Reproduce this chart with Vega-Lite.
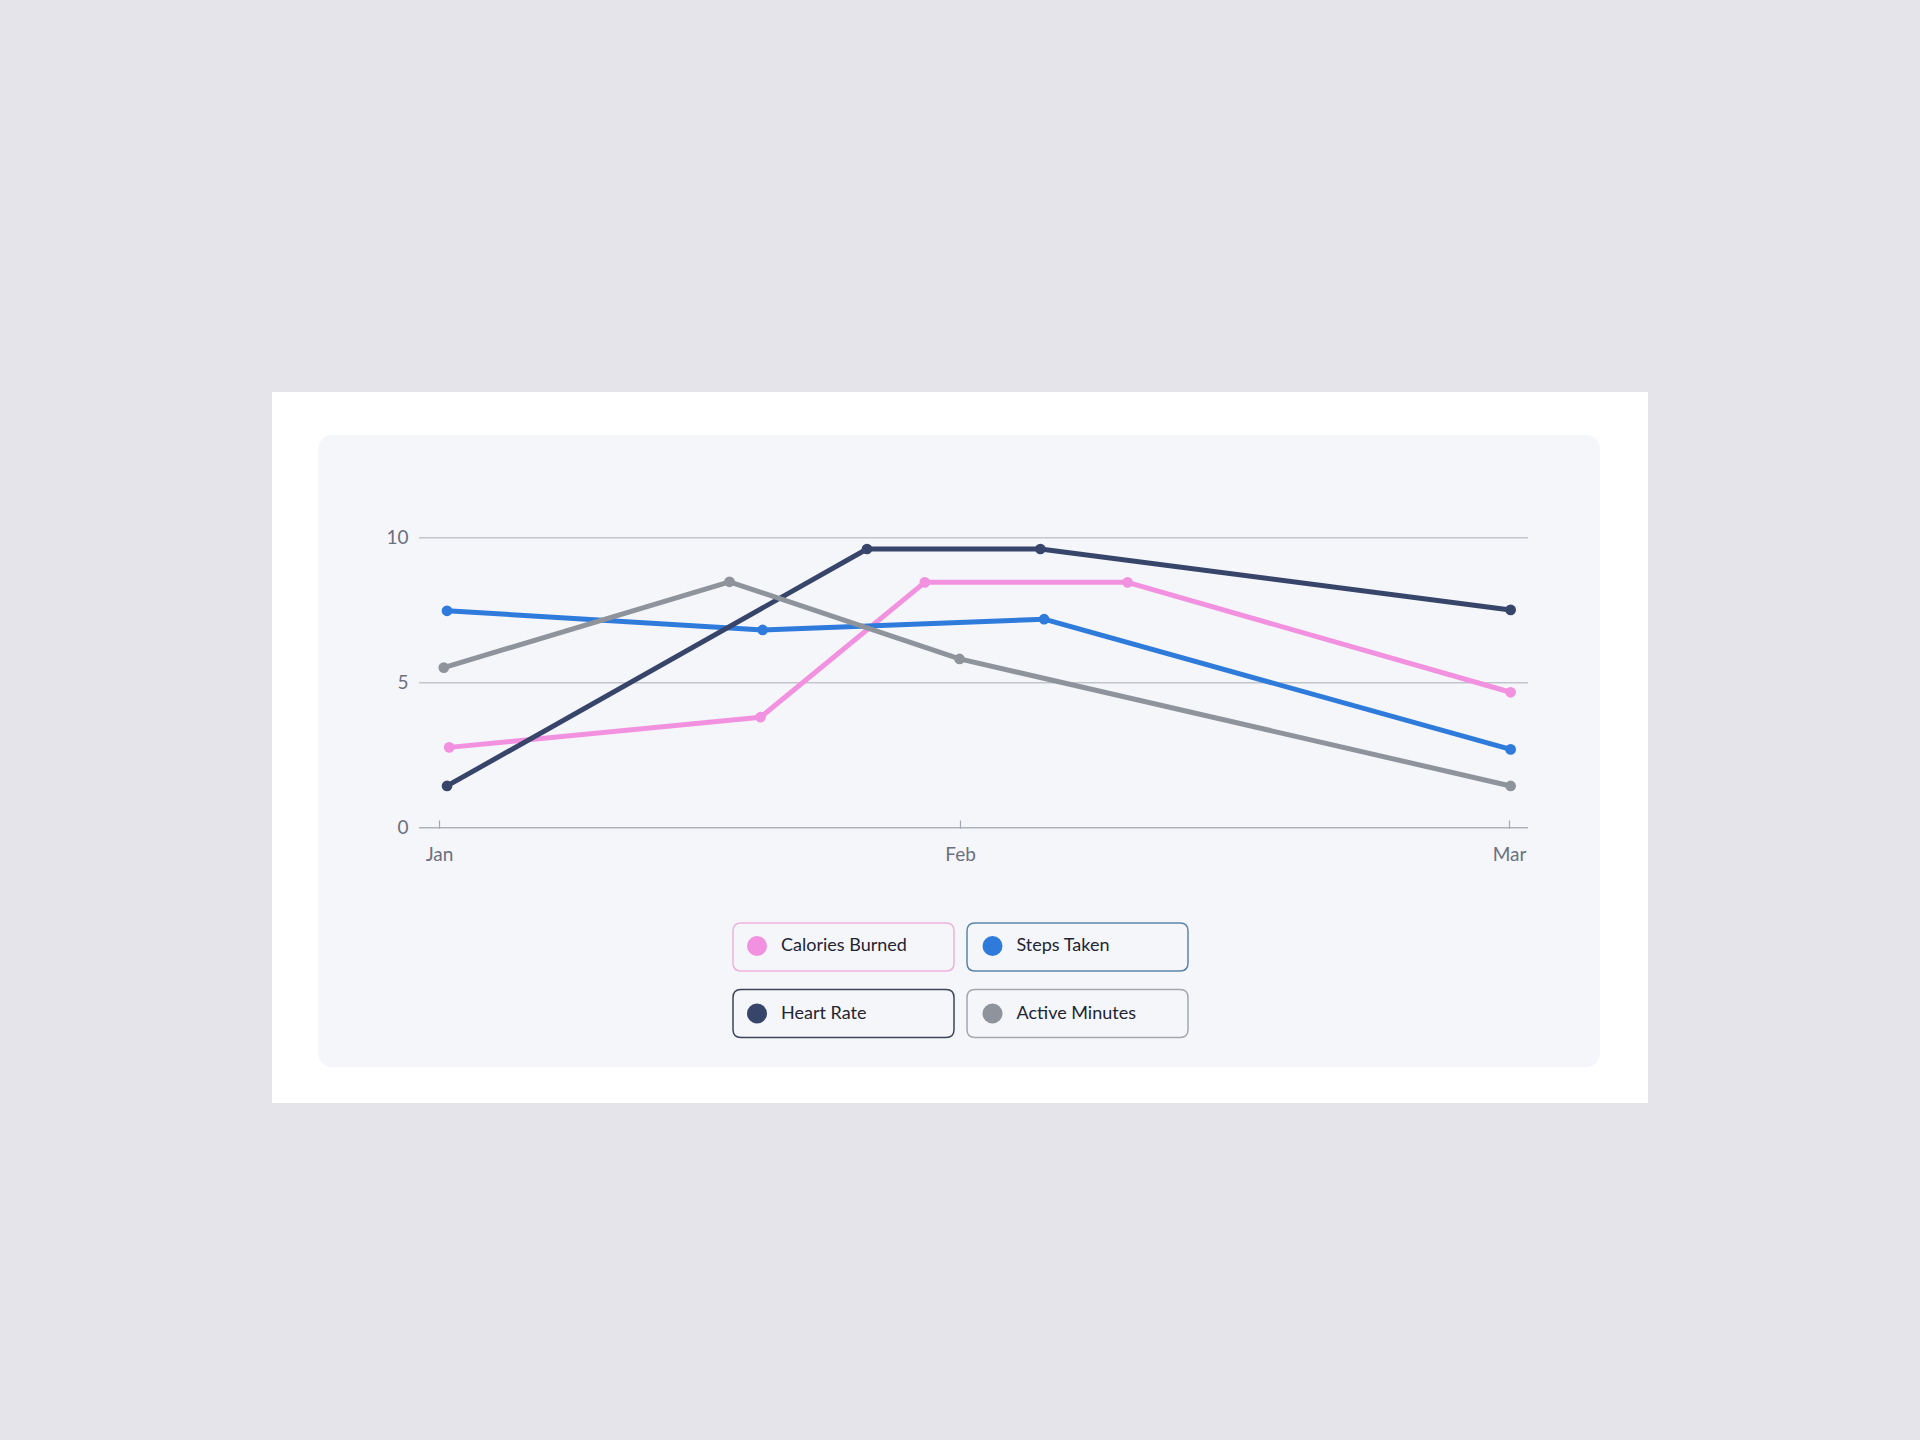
{
  "$schema": "https://vega.github.io/schema/vega-lite/v6.json",
  "width": 1376,
  "height": 711,
  "autosize": {"type": "none"},
  "padding": {"left": 272, "top": 392, "right": 272, "bottom": 337},
  "background": "#e4e4ea",
  "config": {
    "view": {"fill": "#ffffff", "stroke": null},
    "font": "Lato",
    "axis": {"labelFont": "Lato", "labelColor": "#6b7080", "labelFontSize": 19},
    "legend": {"labelFont": "Lato"}
  },
  "data": {
    "values": [
      {"series": "Calories Burned", "month": 1.019, "value": 2.77},
      {"series": "Calories Burned", "month": 1.601, "value": 3.81},
      {"series": "Calories Burned", "month": 1.908, "value": 8.46},
      {"series": "Calories Burned", "month": 2.287, "value": 8.46},
      {"series": "Calories Burned", "month": 3.003, "value": 4.67},
      {"series": "Steps Taken", "month": 1.015, "value": 7.48},
      {"series": "Steps Taken", "month": 1.605, "value": 6.82},
      {"series": "Steps Taken", "month": 2.131, "value": 7.19},
      {"series": "Steps Taken", "month": 3.003, "value": 2.70},
      {"series": "Heart Rate", "month": 1.015, "value": 1.44},
      {"series": "Heart Rate", "month": 1.800, "value": 9.61},
      {"series": "Heart Rate", "month": 2.124, "value": 9.61},
      {"series": "Heart Rate", "month": 3.003, "value": 7.51},
      {"series": "Active Minutes", "month": 1.009, "value": 5.52},
      {"series": "Active Minutes", "month": 1.543, "value": 8.48},
      {"series": "Active Minutes", "month": 1.973, "value": 5.82},
      {"series": "Active Minutes", "month": 3.003, "value": 1.44}
    ]
  },
  "encoding": {
    "x": {
      "field": "month",
      "type": "quantitative",
      "scale": {"domain": [0.68785, 3.2598], "nice": false, "zero": false},
      "axis": {
        "title": null,
        "offset": -283,
        "values": [1, 1.974, 3],
        "labelExpr": "datum.value < 1.5 ? 'Jan' : datum.value < 2.5 ? 'Feb' : 'Mar'",
        "domain": false,
        "grid": false,
        "ticks": true,
        "tickSize": 8,
        "tickColor": "#a3a7b0",
        "tickWidth": 1.2,
        "labelPadding": 17,
        "labelFlush": false,
        "zindex": 1
      }
    },
    "y": {
      "field": "value",
      "type": "quantitative",
      "scale": {"domain": [-9.493, 15.024], "nice": false, "zero": false},
      "axis": {
        "title": null,
        "offset": -147,
        "values": [0, 5, 10],
        "domain": false,
        "grid": false,
        "ticks": false,
        "labelPadding": 11,
        "zindex": 1
      }
    }
  },
  "layer": [
    {
      "transform": [{"filter": {"and": [{"field": "series", "equal": "Heart Rate"}, {"field": "month", "gt": 3}]}}],
      "mark": {"type": "rect", "fill": "#f5f6fa", "cornerRadius": 14},
      "encoding": {
        "x": {"datum": 0.7744},
        "x2": {"datum": 3.1701},
        "y": {"datum": 13.541},
        "y2": {"datum": -8.262}
      }
    },
    {
      "transform": [{"filter": {"and": [{"field": "series", "equal": "Heart Rate"}, {"field": "month", "gt": 3}]}}],
      "mark": {"type": "rule", "color": "#c3c5cc", "strokeWidth": 1.5},
      "encoding": {"x": {"datum": 0.9626}, "x2": {"datum": 3.0355}, "y": {"datum": 10}}
    },
    {
      "transform": [{"filter": {"and": [{"field": "series", "equal": "Heart Rate"}, {"field": "month", "gt": 3}]}}],
      "mark": {"type": "rule", "color": "#c3c5cc", "strokeWidth": 1.5},
      "encoding": {"x": {"datum": 0.9626}, "x2": {"datum": 3.0355}, "y": {"datum": 5}}
    },
    {
      "transform": [{"filter": {"and": [{"field": "series", "equal": "Heart Rate"}, {"field": "month", "gt": 3}]}}],
      "mark": {"type": "rule", "color": "#aeb1b8", "strokeWidth": 1.5},
      "encoding": {"x": {"datum": 0.9626}, "x2": {"datum": 3.0355}, "y": {"datum": 0}}
    },
    {
      "mark": {"type": "line", "strokeWidth": 5, "strokeCap": "round", "strokeJoin": "round"},
      "encoding": {
        "stroke": {
          "field": "series",
          "type": "nominal",
          "scale": {
            "domain": ["Calories Burned", "Steps Taken", "Heart Rate", "Active Minutes"],
            "range": ["#f291df", "#2e7bdc", "#38456b", "#8e939c"]
          },
          "legend": null
        }
      }
    },
    {
      "mark": {"type": "point", "filled": true, "size": 115, "opacity": 1},
      "encoding": {
        "fill": {
          "field": "series",
          "type": "nominal",
          "sort": null,
          "scale": {"range": ["#f291df", "#2e7bdc", "#38456b", "#8e939c"]},
          "legend": {
            "title": null,
            "orient": "none",
            "direction": "horizontal",
            "legendX": 474,
            "legendY": 543,
            "columns": 2,
            "padding": 0,
            "symbolType": "circle",
            "symbolSize": 400,
            "symbolStrokeWidth": 1.5,
            "symbolStrokeColor": "transparent",
            "symbolOpacity": 1,
            "labelFontSize": 18,
            "labelColor": "#1f2433",
            "labelOffset": 13,
            "labelLimit": 300,
            "columnPadding": 72.5,
            "rowPadding": 41.5
          }
        }
      }
    },
    {
      "mark": {"type": "point", "filled": false, "opacity": 0},
      "encoding": {
        "color": {
          "field": "series",
          "type": "nominal",
          "sort": ["Calories Burned", "Steps Taken", "Heart Rate", "Active Minutes"],
          "scale": {"range": ["#eeb2dc", "#5a86a8", "#3c4457", "#a4a7ae"]},
          "legend": {
            "title": null,
            "orient": "none",
            "direction": "horizontal",
            "legendX": 475,
            "legendY": 544,
            "columns": 2,
            "padding": 0,
            "symbolType": "M -1.7 -2.4 L 18.8 -2.4 Q 19.6 -2.4 19.6 -1.6 L 19.6 1.6 Q 19.6 2.4 18.8 2.4 L -1.7 2.4 Q -2.5 2.4 -2.5 1.6 L -2.5 -1.6 Q -2.5 -2.4 -1.7 -2.4 Z",
            "symbolSize": 400,
            "symbolStrokeWidth": 1.5,
            "symbolFillColor": "transparent",
            "symbolOpacity": 1,
            "labelFontSize": 18,
            "labelOpacity": 0,
            "labelOffset": 13,
            "labelLimit": 300,
            "columnPadding": 7,
            "rowPadding": 12.5
          }
        }
      }
    }
  ]
}
